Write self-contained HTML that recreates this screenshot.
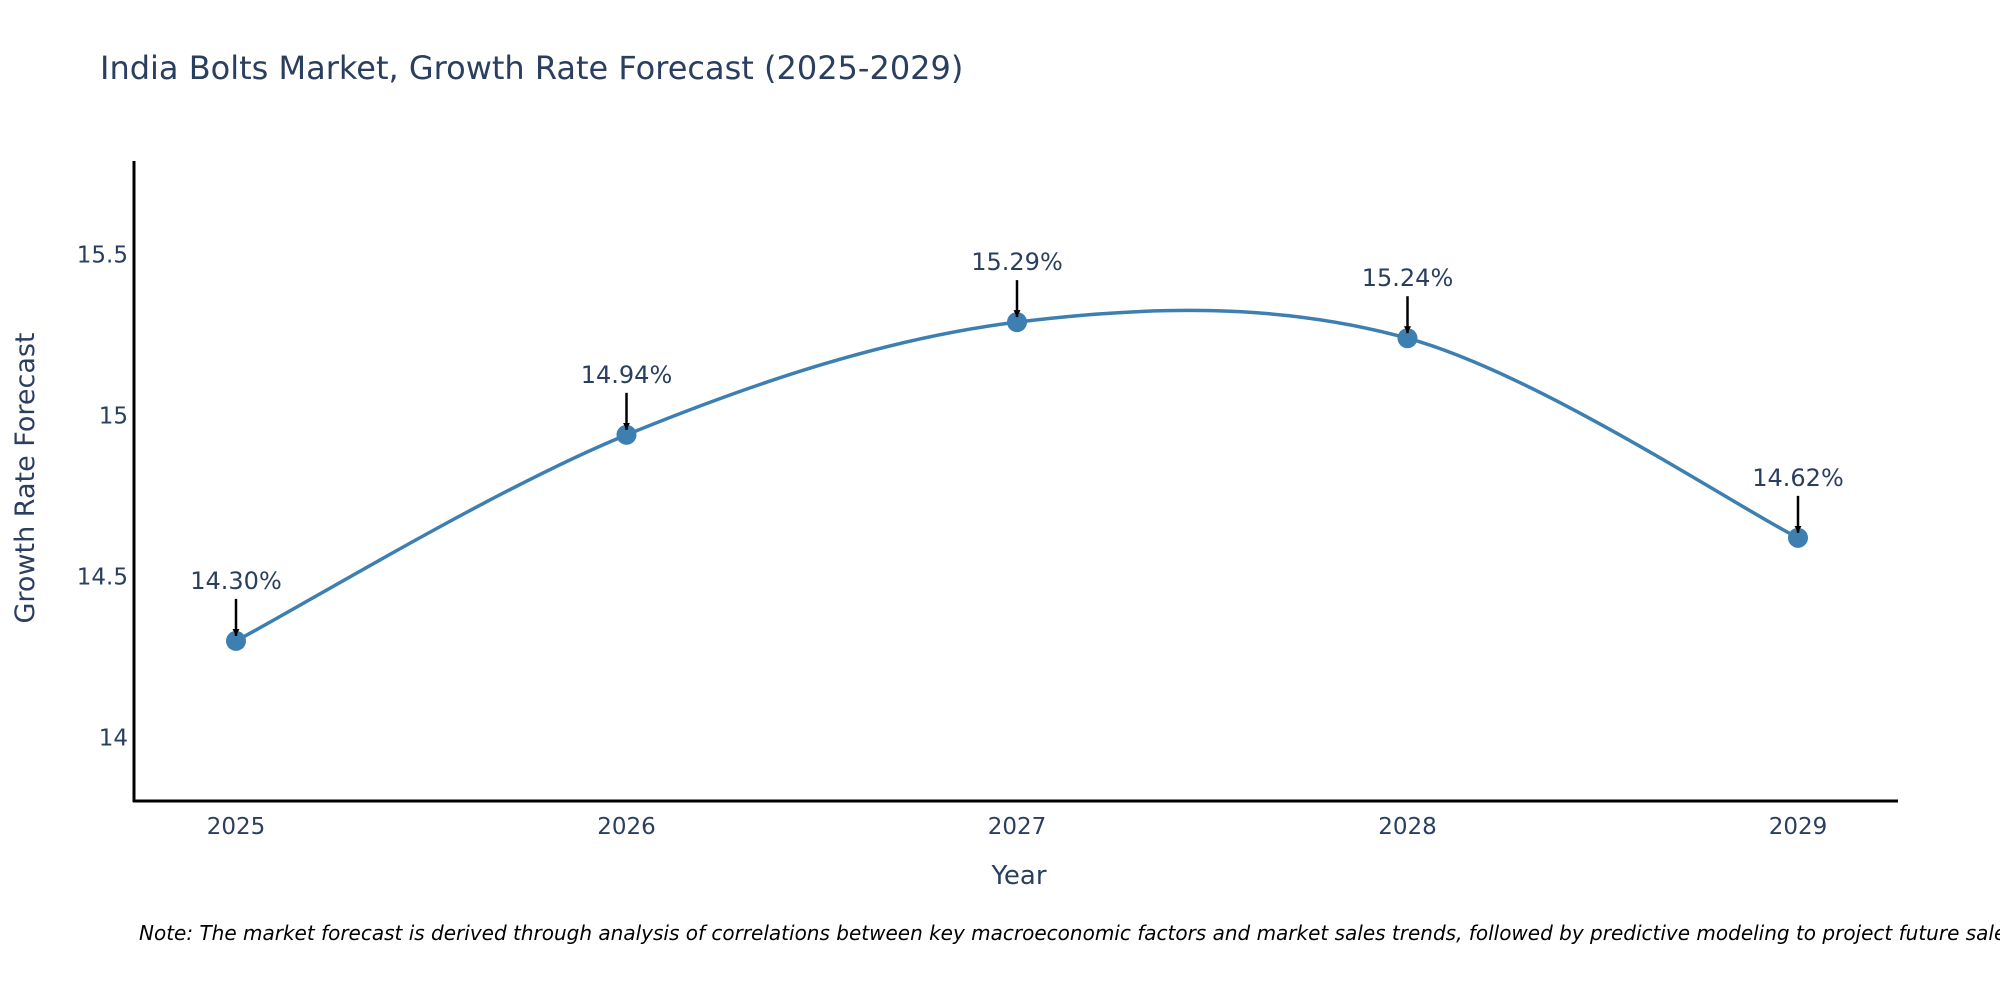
<!DOCTYPE html>
<html><head><meta charset="utf-8"><style>
body{margin:0;background:#fff;}
svg{display:block;font-family:"DejaVu Sans","Liberation Sans",sans-serif;}
</style></head><body>
<svg id="chart" width="2000" height="1000" viewBox="0 0 2000 1000">
<rect width="2000" height="1000" fill="#fff"/>
<text x="100" y="79" font-size="32" fill="#2a3f5f">India Bolts Market, Growth Rate Forecast (2025-2029)</text>
<g id="yticks"></g>
<g id="xticks"></g>
<line x1="134" y1="161" x2="134" y2="802" stroke="#000" stroke-width="3"/>
<line x1="133" y1="801" x2="1898" y2="801" stroke="#000" stroke-width="3"/>
<text transform="translate(34,478) rotate(-90)" text-anchor="middle" font-size="27" fill="#2a3f5f">Growth Rate Forecast</text>
<text x="1019" y="884" text-anchor="middle" font-size="26" fill="#2a3f5f">Year</text>
<defs><marker id="arr" viewBox="0 0 10 10" refX="10" refY="5" markerWidth="7" markerHeight="7" markerUnits="userSpaceOnUse" orient="auto"><path d="M0,0L10,5L0,10z" fill="#000"/></marker></defs>
<path id="line" fill="none" stroke="#3d7fb0" stroke-width="3.5"/>
<g id="marks"></g>
<text x="139" y="940" font-size="20" font-style="italic" fill="#000">Note: The market forecast is derived through analysis of correlations between key macroeconomic factors and market sales trends, followed by predictive modeling to project future sales.</text>
</svg>
<script>
const years = [2025, 2026, 2027, 2028, 2029];
const values = [14.30, 14.94, 15.29, 15.24, 14.62];
const valueLabels = ["14.30%", "14.94%", "15.29%", "15.24%", "14.62%"];
const yTicks = [14, 14.5, 15, 15.5];
const yTickLabels = ["14", "14.5", "15", "15.5"];

const NS = "http://www.w3.org/2000/svg";
function X(yr){ return 236 + (yr - 2025) * 390.5; }
function Y(v){ return 415.5 - (v - 15) * 322; }
function mk(tag, attrs, parent, text){
  const e = document.createElementNS(NS, tag);
  for (const k in attrs) e.setAttribute(k, attrs[k]);
  if (text !== undefined) e.textContent = text;
  parent.appendChild(e); return e;
}
const yt = document.getElementById('yticks');
yTicks.forEach((t, i) => {
  const el = mk('text', {x:128, y:Y(t)+8, 'text-anchor':'end', 'font-size':23, fill:'#2a3f5f'}, yt, yTickLabels[i]);
  
  
});
const xt = document.getElementById('xticks');
years.forEach(yr => {
  const el = mk('text', {x:X(yr), y:834, 'text-anchor':'middle', 'font-size':23, fill:'#2a3f5f'}, xt, String(yr));
  
  
});
const pts = years.map((yr, i) => [X(yr), Y(values[i])]);
let d = `M${pts[0][0]},${pts[0][1]}`;
const s = 0.5;
for (let i = 0; i < pts.length - 1; i++) {
  const p0 = pts[i-1] || pts[i], p1 = pts[i], p2 = pts[i+1], p3 = pts[i+2] || pts[i+1];
  const c1 = [p1[0] + (p2[0]-p0[0])*s/3, p1[1] + (p2[1]-p0[1])*s/3];
  const c2 = [p2[0] - (p3[0]-p1[0])*s/3, p2[1] - (p3[1]-p1[1])*s/3];
  d += ` C${c1[0]},${c1[1]} ${c2[0]},${c2[1]} ${p2[0]},${p2[1]}`;
}
document.getElementById('line').setAttribute('d', d);
const g = document.getElementById('marks');
pts.forEach((p, i) => {
  const c = mk('circle', {cx:p[0], cy:p[1], r:10, fill:'#3d7fb0'}, g);
  
  
  const a = mk('line', {x1:p[0], y1:p[1]-42, x2:p[0], y2:p[1]-5, stroke:'#000', 'stroke-width':2.5, 'marker-end':'url(#arr)'}, g);
  
  
  const t = mk('text', {x:p[0], y:p[1]-52, 'text-anchor':'middle', 'font-size':24, fill:'#2a3f5f'}, g, valueLabels[i]);
  
  
});
</script>
</body></html>
